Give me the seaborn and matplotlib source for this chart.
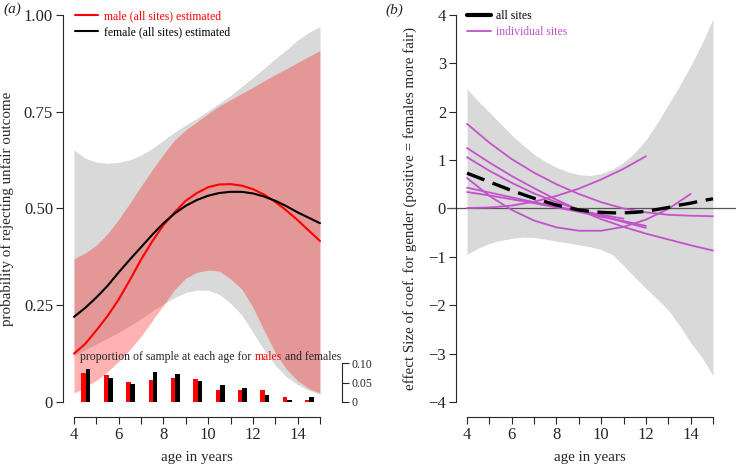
import numpy as np
import matplotlib.pyplot as plt
from matplotlib.lines import Line2D
import seaborn as sns

sns.set_style('ticks')
plt.rcParams['font.family'] = ['Liberation Serif', 'DejaVu Serif']
plt.rcParams['axes.unicode_minus'] = True

# ---- panel (a): probability of rejecting unfair outcome ----
age = [4.0, 4.5, 5.0, 5.5, 6.0, 6.5, 7.0, 7.5, 8.0, 8.5, 9.0, 9.5,
       10.0, 10.5, 11.0, 11.5, 12.0, 12.5, 13.0, 13.5, 14.0, 14.5, 15.0]
male_est = [0.125, 0.15, 0.185, 0.222, 0.265, 0.315, 0.368, 0.415, 0.457, 0.49, 0.52, 0.54,
            0.555, 0.562, 0.563, 0.559, 0.55, 0.536, 0.517, 0.495, 0.47, 0.443, 0.416]
female_est = [0.22, 0.243, 0.27, 0.3, 0.335, 0.368, 0.40, 0.432, 0.462, 0.487, 0.507, 0.522,
              0.533, 0.54, 0.543, 0.543, 0.539, 0.531, 0.52, 0.506, 0.49, 0.476, 0.462]
male_hi = [0.37, 0.385, 0.405, 0.435, 0.472, 0.514, 0.558, 0.6, 0.64, 0.677, 0.703, 0.724,
           0.745, 0.765, 0.781, 0.797, 0.813, 0.83, 0.846, 0.861, 0.877, 0.893, 0.908]
male_lo = [0.023, 0.038, 0.056, 0.078, 0.105, 0.135, 0.17, 0.21, 0.25, 0.29, 0.32, 0.335,
           0.341, 0.338, 0.318, 0.292, 0.245, 0.185, 0.128, 0.085, 0.055, 0.035, 0.023]
female_hi = [0.651, 0.63, 0.62, 0.617, 0.619, 0.626, 0.638, 0.655, 0.676, 0.697, 0.716, 0.733,
             0.752, 0.772, 0.792, 0.815, 0.838, 0.862, 0.887, 0.91, 0.935, 0.955, 0.97]
female_lo = [0.12, 0.135, 0.15, 0.165, 0.18, 0.197, 0.215, 0.235, 0.253, 0.27, 0.283, 0.289,
             0.289, 0.278, 0.255, 0.225, 0.18, 0.135, 0.095, 0.065, 0.045, 0.03, 0.02]

# proportion of sample at each age
bar_age = [4, 5, 6, 7, 8, 9, 10, 11, 12, 13, 14]
prop_male = [0.076, 0.070, 0.052, 0.057, 0.061, 0.059, 0.030, 0.032, 0.030, 0.012, 0.006]
prop_female = [0.084, 0.061, 0.046, 0.078, 0.072, 0.055, 0.043, 0.037, 0.017, 0.006, 0.012]

# ---- panel (b): effect size for gender ----
effect_all = [0.73, 0.64, 0.55, 0.46, 0.37, 0.29, 0.21, 0.14, 0.07, 0.02, -0.03, -0.06,
              -0.08, -0.09, -0.09, -0.08, -0.06, -0.02, 0.02, 0.07, 0.11, 0.16, 0.2]
effect_hi = [2.47, 2.22, 1.99, 1.75, 1.52, 1.31, 1.12, 0.97, 0.85, 0.76, 0.70, 0.68,
             0.72, 0.81, 0.95, 1.15, 1.42, 1.76, 2.15, 2.53, 2.95, 3.40, 3.92]
effect_lo = [-0.95, -0.82, -0.72, -0.66, -0.62, -0.59, -0.60, -0.635, -0.675, -0.71, -0.75, -0.79,
             -0.85, -0.95, -1.18, -1.42, -1.65, -1.87, -2.10, -2.42, -2.77, -3.07, -3.46]

site_ages = [
    [4, 5, 6, 7, 8, 9, 10, 11, 12, 13, 14, 15],
    [4, 5, 6, 7, 8, 9, 10, 11, 12, 13, 14, 15],
    [4, 5, 6, 7, 8, 9, 10, 11, 12],
    [4, 5, 6, 7, 8, 9, 10, 11, 12, 13, 14],
    [4, 5, 6, 7, 8, 9, 10, 11],
    [4, 5, 6, 7, 8, 9, 10, 11, 12],
    [4, 5, 6, 7, 8, 9, 10, 11, 12],
]
site_effects = [
    [1.75, 1.36, 1.02, 0.74, 0.50, 0.30, 0.13, 0.0, -0.08, -0.13, -0.15, -0.16],
    [1.25, 0.95, 0.67, 0.42, 0.18, -0.03, -0.22, -0.38, -0.52, -0.64, -0.76, -0.87],
    [1.06, 0.78, 0.53, 0.31, 0.13, -0.02, -0.15, -0.28, -0.40],
    [0.63, 0.26, -0.03, -0.25, -0.39, -0.46, -0.46, -0.38, -0.23, -0.01, 0.30],
    [0.43, 0.33, 0.23, 0.13, 0.04, -0.05, -0.13, -0.21],
    [0.34, 0.27, 0.19, 0.11, 0.02, -0.07, -0.17, -0.26, -0.36],
    [0.01, 0.02, 0.06, 0.14, 0.26, 0.41, 0.60, 0.82, 1.08],
]

SITE_COL = '#c452cc'
GREY = '#d9d9d9'
FS_TICK = 12
FS_LAB = 10.8
FS_SMALL = 8.5

fig = plt.figure(figsize=(7.36, 4.65), dpi=100)
ax_a = fig.add_axes([0.0853, 0.1022, 0.3628, 0.8989])
ax_b = fig.add_axes([0.6072, 0.1022, 0.3928, 0.8989])

# ---------------- panel (a) ----------------
ax_a.fill_between(age, female_lo, female_hi, color=GREY, lw=0)
ax_a.fill_between(age, male_lo, male_hi, color='red', alpha=0.3, lw=0)
sns.lineplot(x=age, y=male_est, color='red', lw=1.5, ax=ax_a, label='male (all sites) estimated')
sns.lineplot(x=age, y=female_est, color='black', lw=1.5, ax=ax_a, label='female (all sites) estimated')

ba = np.array(bar_age)
ax_a.bar(ba + 0.44, prop_male, width=0.21, color='red', lw=0)
ax_a.bar(ba + 0.63, prop_female, width=0.21, color='black', lw=0)

t = ax_a.text(4.29, 0.116, 'proportion of sample at each age for ', fontsize=FS_SMALL, va='center')
t = ax_a.annotate('males', xycoords=t, xy=(1, 0), va='bottom', color='red', fontsize=FS_SMALL)
ax_a.annotate(' and females', xycoords=t, xy=(1, 0), va='bottom', fontsize=FS_SMALL)

ax_a.set_xlim(3.5, 15.44)
ax_a.set_ylim(-0.04, 1.04)
ax_a.set_yticks([0, 0.25, 0.5, 0.75, 1.0], labels=['0', '0.25', '0.50', '0.75', '1.00'])
ax_a.set_ylabel('probability of rejecting unfair outcome', fontsize=FS_LAB)
ax_a.yaxis.set_label_coords(-0.183, 0.5)

ax_a.legend(loc='upper left', bbox_to_anchor=(0.045, 0.975), frameon=False,
            fontsize=FS_SMALL, handlelength=2.0, handletextpad=0.45,
            labelspacing=0.35, borderpad=0, borderaxespad=0, labelcolor='linecolor')

sec = ax_a.secondary_yaxis(1.0457)
sec.set_yticks([0, 0.05, 0.10], labels=['0', '0.05', '0.10'])
sec.spines['right'].set_bounds(0, 0.10)
sec.tick_params(labelsize=FS_SMALL, length=5, width=0.8, pad=2)
sec.spines['right'].set_linewidth(0.8)

# ---------------- panel (b) ----------------
ax_b.fill_between(age, effect_lo, effect_hi, color=GREY, lw=0)
ax_b.axhline(0, color='#555555', lw=0.9)
for xs, ys in zip(site_ages, site_effects):
    sns.lineplot(x=xs, y=ys, color=SITE_COL, lw=1.3, ax=ax_b)
sns.lineplot(x=age, y=effect_all, color='black', lw=2.4, ax=ax_b)
ax_b.lines[-1].set_dashes((5.6, 2.6))
ax_b.lines[-1].set_dash_capstyle('butt')

ax_b.set_xlim(3.1, 16.03)
ax_b.set_ylim(-4.32, 4.32)
ax_b.set_yticks(range(-4, 5))
ax_b.spines['left'].set_position(('data', 3.5))
ax_b.set_ylabel('effect Size of coef. for gender (positive = females more fair)', fontsize=FS_LAB)
ax_b.yaxis.set_label_coords(-0.1034, 0.5)

handles_b = [Line2D([], [], color='black', lw=3),
             Line2D([], [], color=SITE_COL, lw=1.3)]
ax_b.legend(handles_b, ['all sites', 'individual sites'], loc='upper left',
            bbox_to_anchor=(0.0695, 0.975), frameon=False, fontsize=FS_SMALL,
            handlelength=2.0, handletextpad=0.45, labelspacing=0.35, borderpad=0,
            borderaxespad=0, labelcolor='linecolor')

# ---------------- shared axis styling ----------------
xt_labels = ['4', '', '6', '', '8', '', '10', '', '12', '', '14', '']
for ax, xc in [(ax_a, 0.5025), (ax_b, 0.495)]:
    ax.set_facecolor('none')
    ax.spines['top'].set_visible(False)
    ax.spines['right'].set_visible(False)
    ax.spines['bottom'].set_bounds(4, 15)
    ax.set_xticks(range(4, 16), labels=xt_labels)
    ax.tick_params(labelsize=FS_TICK, length=5, width=0.8, pad=2)
    for s in ['left', 'bottom']:
        ax.spines[s].set_linewidth(0.8)
    ax.set_xlabel('age in years', fontsize=FS_LAB)
    ax.xaxis.set_label_coords(xc, -0.08)
ax_a.spines['left'].set_bounds(0, 1)
ax_b.spines['left'].set_bounds(-4, 4)

fig.text(12 / 736, 1 - 9 / 465, '(a)', style='italic', fontsize=11, ha='center', va='center')
fig.text(394 / 736, 1 - 10 / 465, '(b)', style='italic', fontsize=11, ha='center', va='center')

plt.savefig('out.png', dpi=100)
